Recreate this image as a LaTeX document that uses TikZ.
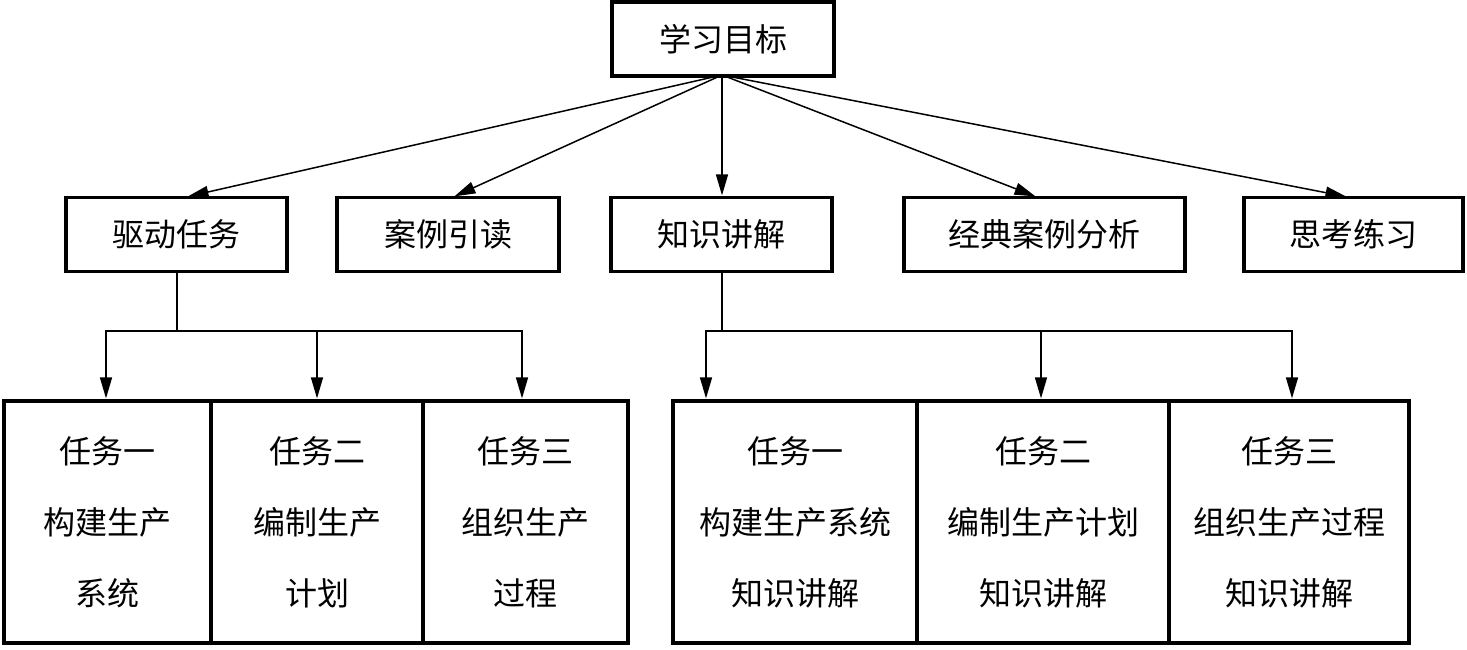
\documentclass[tikz,border=0pt]{standalone}
\usepackage{fontspec}
\newfontfamily\cjk{Noto Sans CJK SC}
\usetikzlibrary{arrows.meta}
\begin{document}
\begin{tikzpicture}[x=1pt,y=-1pt,
  box/.style={draw, line width=3.6pt, inner sep=0pt, minimum height=74pt,
    font=\cjk\fontsize{32}{40}\selectfont},
  cell/.style={draw, line width=3.6pt, inner sep=0pt, minimum height=242pt,
    align=center, font=\cjk\fontsize{32}{71}\selectfont},
  conn/.style={line width=1.5pt},
  arr/.style={line width=1.5pt, -{Triangle[length=21pt,width=12pt]}, shorten >=1.6pt}
]
\useasboundingbox (0,0) rectangle (1467,650);
% top
\node[box, minimum width=222pt] (goal) at (723,39) {学习目标};
% row 2
\node[box, minimum width=221pt] (drive) at (176.5,234.5) {驱动任务};
\node[box, minimum width=222pt] (case) at (448,234.5) {案例引读};
\node[box, minimum width=221pt] (know) at (721.5,234.5) {知识讲解};
\node[box, minimum width=281pt] (classic) at (1044.5,234.5) {经典案例分析};
\node[box, minimum width=219pt] (think) at (1353.5,234.5) {思考练习};
% bottom left
\node[cell, minimum width=207pt] (l1) at (107.5,522) {任务一\\构建生产\\系统};
\node[cell, minimum width=212pt] (l2) at (317,522) {任务二\\编制生产\\计划};
\node[cell, minimum width=205pt] (l3) at (525.5,522) {任务三\\组织生产\\过程};
% bottom right
\node[cell, minimum width=244pt] (r1) at (795,522) {任务一\\构建生产系统\\知识讲解};
\node[cell, minimum width=252pt] (r2) at (1043,522) {任务二\\编制生产计划\\知识讲解};
\node[cell, minimum width=240pt] (r3) at (1289,522) {任务三\\组织生产过程\\知识讲解};
% arrow targets on row 2
\coordinate (e1) at (186,197);
\coordinate (e2) at (453,197);
\coordinate (e3) at (722,197);
\coordinate (e4) at (1037,197);
\coordinate (e5) at (1348,197);
\coordinate (g) at (722,75);
\foreach \e in {e1,e2,e3,e4,e5} \draw[arr] (g) -- (\e);
% left branch
\coordinate (jl) at (177,331);
\coordinate (t1) at (106,400);
\coordinate (t2) at (317,400);
\coordinate (t3) at (522,400);
\draw[conn] (drive.south -| jl) -- (jl);
\draw[arr] (jl) -| (t1);
\draw[arr] (jl) -| (t3);
\draw[arr] (jl -| t2) -- (t2);
% right branch
\coordinate (jr) at (722,331);
\coordinate (t4) at (706,400);
\coordinate (t5) at (1041,400);
\coordinate (t6) at (1292,400);
\draw[conn] (know.south -| jr) -- (jr);
\draw[arr] (jr) -| (t4);
\draw[arr] (jr) -| (t6);
\draw[arr] (jr -| t5) -- (t5);
\end{tikzpicture}
\end{document}
